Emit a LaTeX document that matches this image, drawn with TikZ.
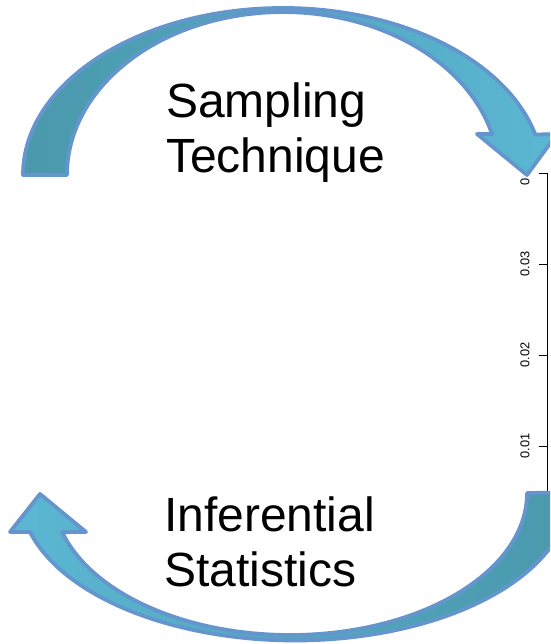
\documentclass[tikz,border=0pt]{standalone}
\usepackage{fontspec}
\setmainfont{Liberation Sans}
\definecolor{tealdark}{HTML}{4A98AC}
\definecolor{cyanlight}{HTML}{5BB7D3}
\definecolor{rimblue}{HTML}{6496CD}
\begin{document}
\begin{tikzpicture}[
    x=1pt, y=1pt,
    cyclearrow/.style={draw=rimblue, line width=3.8pt, line join=round},
    caption/.style={inner sep=0pt, align=left, anchor=base west,
        font=\fontsize{48}{55}\selectfont},
    ticklabel/.style={inner sep=0pt, rotate=90, font=\fontsize{12.8}{14}\selectfont}
]
\useasboundingbox (0,0) rectangle (550,644);
\clip (0,0) rectangle (550,644);
% density axis on the right
\draw[line width=0.8pt] (547,149) -- (547,471);
\foreach \y/\v in {471/, 380/0.03, 289/0.02, 198/0.01} {
    \draw[line width=0.8pt] (547,\y) -- (539,\y);
    \node[ticklabel] (tick\y) at (525,\y) {\v};
}
\node[ticklabel] (tick0) at (525,462) {0};
% upper arrow, left to right
\draw[cyclearrow, left color=tealdark, right color=cyanlight]
    (23,469) arc[start angle=180, end angle=14, x radius=260pt, y radius=167pt]
    -- (557,510) -- (527,469) -- (477,510) -- (492,510)
    arc[start angle=14.6, end angle=180, x radius=216pt, y radius=163pt]
    -- cycle;
% lower arrow, right to left
\draw[cyclearrow, left color=cyanlight, right color=tealdark]
    (527,151) arc[start angle=0, end angle=-164, x radius=237pt, y radius=142pt]
    -- (86,112) -- (40,150) -- (10,112) -- (30,112)
    arc[start angle=-164.5, end angle=0, x radius=275pt, y radius=148pt]
    -- cycle;
\node[caption] (sampling) at (166,471) {Sampling\\Technique};
\node[caption] (inference) at (164,57) {Inferential\\Statistics};
\end{tikzpicture}
\end{document}
